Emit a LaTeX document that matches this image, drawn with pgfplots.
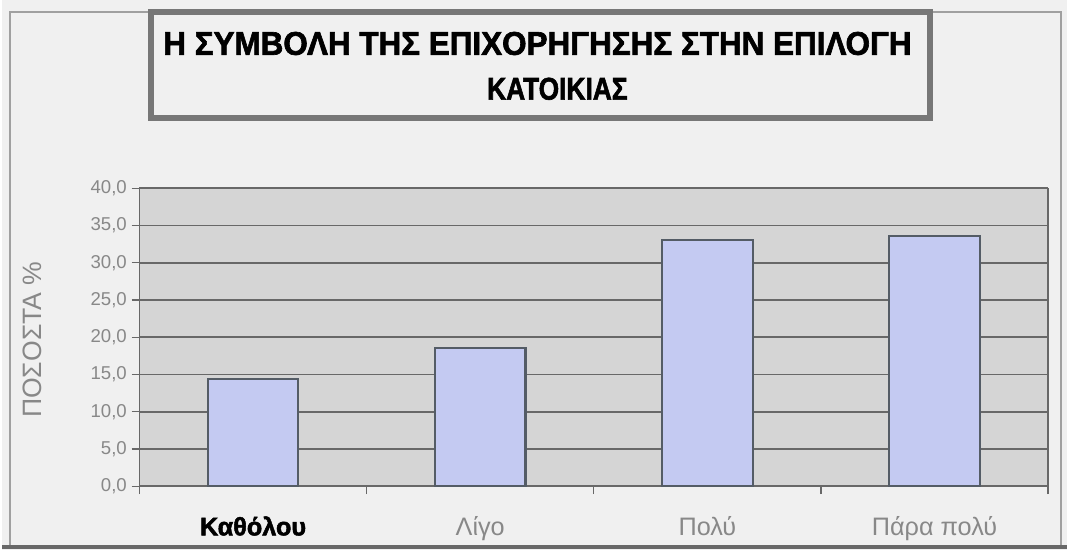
\documentclass[border=0pt]{standalone}
\usepackage{pgfplots}
\pgfplotsset{compat=1.18}
\usepackage{fontspec}
\setmainfont{Liberation Sans}
\newfontface\titlefont[FakeBold=2]{Liberation Sans Bold}
\definecolor{bg}{HTML}{F0F0F0}
\definecolor{plotbg}{HTML}{D5D5D5}
\definecolor{gridc}{HTML}{686868}
\definecolor{barfill}{HTML}{C4CAF2}
\definecolor{barline}{HTML}{545C66}
\definecolor{lab}{HTML}{888888}
\definecolor{boxline}{HTML}{777777}
\begin{document}
\begin{tikzpicture}
\begin{scope}[x=0.75pt,y=-0.75pt]
\fill[bg] (0,0) rectangle (1069,552);
\draw[lab!80,line width=1.2pt] (8,12) rectangle (1063,548);
\draw[gridc,line width=3pt] (0,549) -- (1069,549);
\draw[boxline,fill=bg,line width=4.5pt] (150,12) rectangle (931,118);
\node[anchor=base,inner sep=0pt] at (537.5,55) {\resizebox{563.25pt}{17.25pt}{\titlefont Η ΣΥΜΒΟΛΗ ΤΗΣ ΕΠΙΧΟΡΗΓΗΣΗΣ ΣΤΗΝ ΕΠΙΛΟΓΗ}};
\node[anchor=base,inner sep=0pt] at (557.5,100) {\resizebox{105.75pt}{16.5pt}{\titlefont ΚΑΤΟΙΚΙΑΣ}};
\node[rotate=90,text=lab,inner sep=0pt] at (30,341) {\fontsize{20}{22}\selectfont ΠΟΣΟΣΤΑ \%};
\end{scope}
\begin{axis}[
  at={(103.5pt,-366pt)}, anchor=south west,
  scale only axis, width=684pt, height=224.25pt,
  xmin=-0.5, xmax=3.5, ymin=0, ymax=40,
  ytick={0,5,...,40},
  ymajorgrids, major grid style={gridc,line width=1.2pt},
  axis background/.style={fill=plotbg},
  axis line style={gridc,line width=1pt},
  tick align=outside, major tick length=6pt,
  tick style={gridc,line width=1pt},
  xtick={-0.5,0.5,1.5,2.5,3.5}, xticklabels={},
  extra x ticks={0,1,2,3},
  extra x tick labels={{\color{black}\titlefont Καθόλου},{Λίγο},{Πολύ},{Πάρα πολύ}},
  extra x tick style={major tick length=0pt, grid=none, tick style={draw=none},
     xticklabel style={font=\fontsize{19}{21}\selectfont, anchor=base, yshift=-37pt}},
  ytick pos=left, xtick pos=bottom,
  /pgf/number format/assume math mode=true,
  yticklabel={\pgfmathprintnumber[fixed,fixed zerofill,precision=1,use comma]{\tick}},
  ticklabel style={font=\fontsize{14}{16}\selectfont, text=lab},
  ybar, bar width=68.25pt,
]
\addplot[fill=barfill, draw=barline, line width=1.6pt] coordinates {(0,14.4) (1,18.6) (2,33.1) (3,33.6)};
\end{axis}
\end{tikzpicture}
\end{document}
